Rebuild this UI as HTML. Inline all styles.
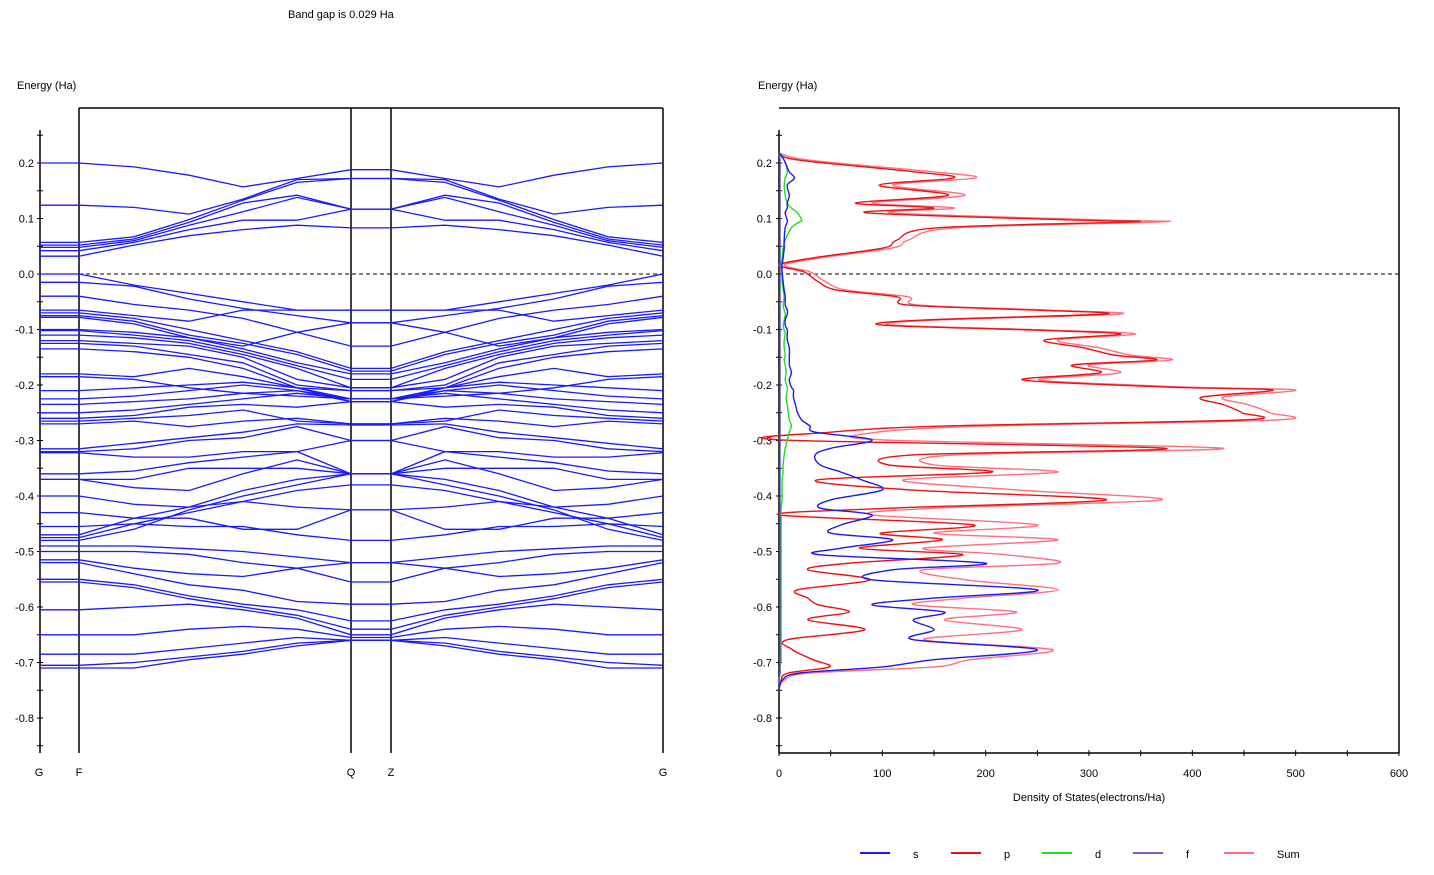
<!DOCTYPE html>
<html><head><meta charset="utf-8"><style>
body{margin:0;background:#fff;width:1434px;height:875px;overflow:hidden}
svg{display:block;font-family:"Liberation Sans",sans-serif}
</style></head><body>
<svg id="c" width="1434" height="875">
<text x="288" y="18" font-size="11">Band gap is 0.029 Ha</text>
<text x="17" y="89" font-size="11">Energy (Ha)</text>
<text x="758" y="89" font-size="11">Energy (Ha)</text>
<text x="1089" y="801" font-size="11" text-anchor="middle">Density of States(electrons/Ha)</text>
<g id="band"></g>
<g id="dos"></g>
<g id="legend"></g>
</svg>
<script>
const NS="http://www.w3.org/2000/svg";
const kLabels=["G","F","Q","Z","G"];
const energyTicks=[0.2,0.1,0.0,-0.1,-0.2,-0.3,-0.4,-0.5,-0.6,-0.7,-0.8];
const conductionBands=[
[0.20,0.193,0.178,0.157,0.172,0.188],
[0.124,0.12,0.108,0.135,0.17,0.172],
[0.057,0.067,0.098,0.133,0.165,0.172],
[0.052,0.063,0.093,0.128,0.142,0.117],
[0.048,0.06,0.088,0.112,0.138,0.117],
[0.042,0.057,0.08,0.097,0.097,0.117],
[0.032,0.052,0.069,0.08,0.088,0.083]];
const valenceBands=[
[0,-0.02,-0.035,-0.05,-0.065,-0.065],
[-0.015,-0.022,-0.045,-0.062,-0.075,-0.088],
[-0.04,-0.055,-0.065,-0.08,-0.105,-0.13],
[-0.065,-0.075,-0.085,-0.065,-0.065,-0.065],
[-0.07,-0.08,-0.10,-0.12,-0.14,-0.17],
[-0.075,-0.085,-0.11,-0.125,-0.145,-0.175],
[-0.078,-0.09,-0.115,-0.13,-0.105,-0.088],
[-0.1,-0.105,-0.115,-0.135,-0.16,-0.18],
[-0.102,-0.11,-0.12,-0.14,-0.165,-0.19],
[-0.11,-0.115,-0.125,-0.145,-0.17,-0.205],
[-0.12,-0.125,-0.13,-0.15,-0.19,-0.205],
[-0.125,-0.13,-0.145,-0.16,-0.2,-0.21],
[-0.135,-0.14,-0.15,-0.17,-0.205,-0.225],
[-0.18,-0.185,-0.17,-0.185,-0.205,-0.21],
[-0.185,-0.19,-0.205,-0.215,-0.22,-0.225],
[-0.21,-0.205,-0.2,-0.195,-0.205,-0.23],
[-0.225,-0.22,-0.21,-0.2,-0.21,-0.225],
[-0.235,-0.23,-0.225,-0.215,-0.21,-0.23],
[-0.25,-0.245,-0.235,-0.225,-0.215,-0.225],
[-0.26,-0.255,-0.24,-0.235,-0.24,-0.23],
[-0.265,-0.26,-0.255,-0.245,-0.265,-0.27],
[-0.27,-0.265,-0.275,-0.265,-0.26,-0.27],
[-0.315,-0.305,-0.295,-0.285,-0.27,-0.272],
[-0.32,-0.315,-0.3,-0.295,-0.275,-0.3],
[-0.322,-0.33,-0.33,-0.32,-0.32,-0.3],
[-0.36,-0.355,-0.34,-0.33,-0.32,-0.36],
[-0.37,-0.37,-0.35,-0.35,-0.35,-0.36],
[-0.37,-0.385,-0.39,-0.36,-0.335,-0.36],
[-0.40,-0.415,-0.42,-0.41,-0.42,-0.425],
[-0.43,-0.44,-0.44,-0.46,-0.46,-0.425],
[-0.455,-0.45,-0.43,-0.41,-0.39,-0.38],
[-0.47,-0.44,-0.42,-0.39,-0.37,-0.36],
[-0.475,-0.45,-0.455,-0.455,-0.47,-0.48],
[-0.48,-0.46,-0.425,-0.40,-0.38,-0.36],
[-0.49,-0.49,-0.495,-0.5,-0.51,-0.52],
[-0.5,-0.5,-0.505,-0.52,-0.53,-0.52],
[-0.515,-0.53,-0.54,-0.545,-0.53,-0.555],
[-0.52,-0.54,-0.56,-0.57,-0.59,-0.595],
[-0.55,-0.56,-0.58,-0.595,-0.605,-0.625],
[-0.555,-0.565,-0.585,-0.6,-0.615,-0.64],
[-0.605,-0.6,-0.595,-0.605,-0.62,-0.65],
[-0.65,-0.65,-0.64,-0.635,-0.64,-0.655],
[-0.685,-0.685,-0.675,-0.665,-0.655,-0.66],
[-0.705,-0.7,-0.69,-0.68,-0.665,-0.66],
[-0.71,-0.71,-0.695,-0.685,-0.67,-0.66]];
const dosEnergy=[0.218,0.205,0.184,0.173,0.160,0.142,0.128,0.119,0.110,0.097,
0.094,0.083,0.061,0.047,0.029,0.016,0.004,-0.014,-0.029,-0.041,
-0.056,-0.065,-0.072,-0.083,-0.092,-0.101,-0.108,-0.119,-0.133,-0.146,
-0.155,-0.164,-0.178,-0.191,-0.204,-0.209,-0.222,-0.236,-0.25,-0.263,
-0.274,-0.285,-0.299,-0.314,-0.326,-0.344,-0.357,-0.371,-0.389,-0.407,
-0.422,-0.434,-0.452,-0.467,-0.479,-0.494,-0.506,-0.521,-0.533,-0.551,
-0.569,-0.584,-0.596,-0.609,-0.623,-0.641,-0.659,-0.677,-0.695,-0.708,
-0.719,-0.732,-0.75];
const dosSum=[0,30,150,190,110,180,90,170,110,320,
370,170,125,110,40,5,30,45,65,125,
135,260,330,150,110,260,345,270,310,340,
380,300,330,252,400,500,430,455,475,480,
200,95,100,430,170,150,270,120,230,370,
150,90,250,150,270,140,220,270,140,180,
270,180,130,230,160,235,140,265,185,150,
30,5,0];
const dosS=[0,5,10,15,8,10,8,8,6,8,
8,6,5,5,4,3,3,4,5,6,
6,8,8,6,6,8,8,8,10,10,
10,10,12,10,12,14,14,16,18,22,
30,35,90,50,35,40,60,80,100,50,
40,90,60,50,110,60,40,200,110,90,
250,150,90,160,130,150,130,250,150,100,
20,3,0];
const dosD=[0,5,8,6,5,6,8,12,18,22,
20,12,6,4,3,2,3,3,4,5,
4,5,6,5,4,5,6,5,5,6,
5,6,7,6,8,8,7,8,9,10,
12,10,8,6,5,4,4,3,3,3,
2,2,2,2,2,2,2,2,2,2,
2,2,2,2,2,2,2,2,2,1,
1,0,0];
const dosF=[0,1,1,1,1,1,1,1,1,1,1,1,1,1,1,1,1,1,1,1,1,1,1,1,1,1,1,1,1,1,1,1,1,1,1,1,1,1,1,1,1,1,1,1,1,1,1,1,1,1,1,1,1,1,1,1,1,1,1,1,1,1,1,1,1,1,1,1,1,1,1,0,0];
const dosTicks=[0,100,200,300,400,500,600];
const dosP=dosSum.map((v,i)=>Math.max(0,v-dosS[i]-dosD[i]));

const yE=e=>274-e*555;
const kX=[39,79,134,189,243,297,351,391,445,499,554,608,663];
const xD=v=>779+v*620/600;
function el(tag,attrs,parent){const e=document.createElementNS(NS,tag);for(const k in attrs)e.setAttribute(k,attrs[k]);parent.appendChild(e);return e;}
const band=document.getElementById('band'),dos=document.getElementById('dos'),leg=document.getElementById('legend');

let a=el('line',{x1:40,y1:130,x2:40,y2:753,stroke:'#000','stroke-width':1.5},band);


a=el('line',{x1:79,y1:108,x2:663,y2:108,stroke:'#000','stroke-width':1.5},band);


[79,351,391,663].forEach(x=>{const l=el('line',{x1:x,y1:108,x2:x,y2:753,stroke:'#000','stroke-width':1.5},band);

});
[39,79,351,391,663].forEach((x,i)=>{const t=el('text',{x:x,y:776,'font-size':11,'text-anchor':'middle'},band);t.textContent=kLabels[i];

});
for(let e=0.25;e>=-0.86;e-=0.05){const l=el('line',{x1:37,y1:yE(e),x2:43,y2:yE(e),stroke:'#000'},band);

}
energyTicks.forEach(e=>{const t=el('text',{x:34,y:yE(e)+4,'font-size':11,'text-anchor':'end'},band);t.textContent=e.toFixed(1);

});
a=el('line',{x1:79,y1:yE(0),x2:663,y2:yE(0),stroke:'#000','stroke-dasharray':'4,3'},band);


conductionBands.concat(valenceBands).forEach(b=>{
  const vals=[b[0]].concat(b).concat(b.slice().reverse()).concat([b[0]]);
  const pts=kX.map((x,i)=>x+','+yE(vals[i]).toFixed(1)).join(' ');
  const p=el('polyline',{points:pts,fill:'none',stroke:'#1a1aff','stroke-width':1.3},band);
  
  
});

a=el('line',{x1:779,y1:130,x2:779,y2:753,stroke:'#000','stroke-width':1.5},dos);


a=el('polyline',{points:'779,108 1399,108 1399,753',fill:'none',stroke:'#000','stroke-width':1.5},dos);


a=el('line',{x1:779,y1:753,x2:1399,y2:753,stroke:'#000','stroke-width':1.5},dos);


for(let e=0.25;e>=-0.86;e-=0.05){const l=el('line',{x1:776,y1:yE(e),x2:782,y2:yE(e),stroke:'#000'},dos);

}
energyTicks.forEach(e=>{const t=el('text',{x:772,y:yE(e)+4,'font-size':11,'text-anchor':'end'},dos);t.textContent=e.toFixed(1);

});
for(let v=0;v<=600;v+=50){const l=el('line',{x1:xD(v),y1:750,x2:xD(v),y2:756,stroke:'#000'},dos);

}
dosTicks.forEach(v=>{const t=el('text',{x:xD(v),y:777,'font-size':11,'text-anchor':'middle'},dos);t.textContent=v;

});
a=el('line',{x1:779,y1:yE(0),x2:1399,y2:yE(0),stroke:'#000','stroke-dasharray':'4,3'},dos);


function curve(vals,color,name){
  const P=vals.map((v,i)=>[xD(v),yE(dosEnergy[i])]);
  let d='M'+P[0][0].toFixed(1)+','+P[0][1].toFixed(1);
  for(let i=0;i<P.length-1;i++){
    const p0=P[Math.max(0,i-1)],p1=P[i],p2=P[i+1],p3=P[Math.min(P.length-1,i+2)];
    const c1x=p1[0]+(p2[0]-p0[0])/6,c1y=p1[1]+(p2[1]-p0[1])/6;
    const c2x=p2[0]-(p3[0]-p1[0])/6,c2y=p2[1]-(p3[1]-p1[1])/6;
    d+=` C${c1x.toFixed(1)},${c1y.toFixed(1)} ${c2x.toFixed(1)},${c2y.toFixed(1)} ${p2[0].toFixed(1)},${p2[1].toFixed(1)}`;
  }
  const p=el('path',{d:d,fill:'none',stroke:color,'stroke-width':1.4},dos);
  
  
}
curve(dosSum,'#ff7080','dos-sum-curve');
curve(dosP,'#ee1111','dos-p-curve');
curve(dosD,'#22dd22','dos-d-curve');
curve(dosF,'#5555cc','dos-f-curve');
curve(dosS,'#1a1aee','dos-s-curve');

const legNames=['s','p','d','f','Sum'];
const legColors=['#1a1aee','#ee1111','#22dd22','#6666cc','#ff7080'];
const legX=[860,951,1042,1133,1224];
legNames.forEach((n,i)=>{
  const g=el('g',{},leg);
  
  
  el('line',{x1:legX[i],y1:853,x2:legX[i]+30,y2:853,stroke:legColors[i],'stroke-width':2},g);
  const t=el('text',{x:legX[i]+53,y:858,'font-size':11},g);t.textContent=n;
});
</script>
</body></html>
